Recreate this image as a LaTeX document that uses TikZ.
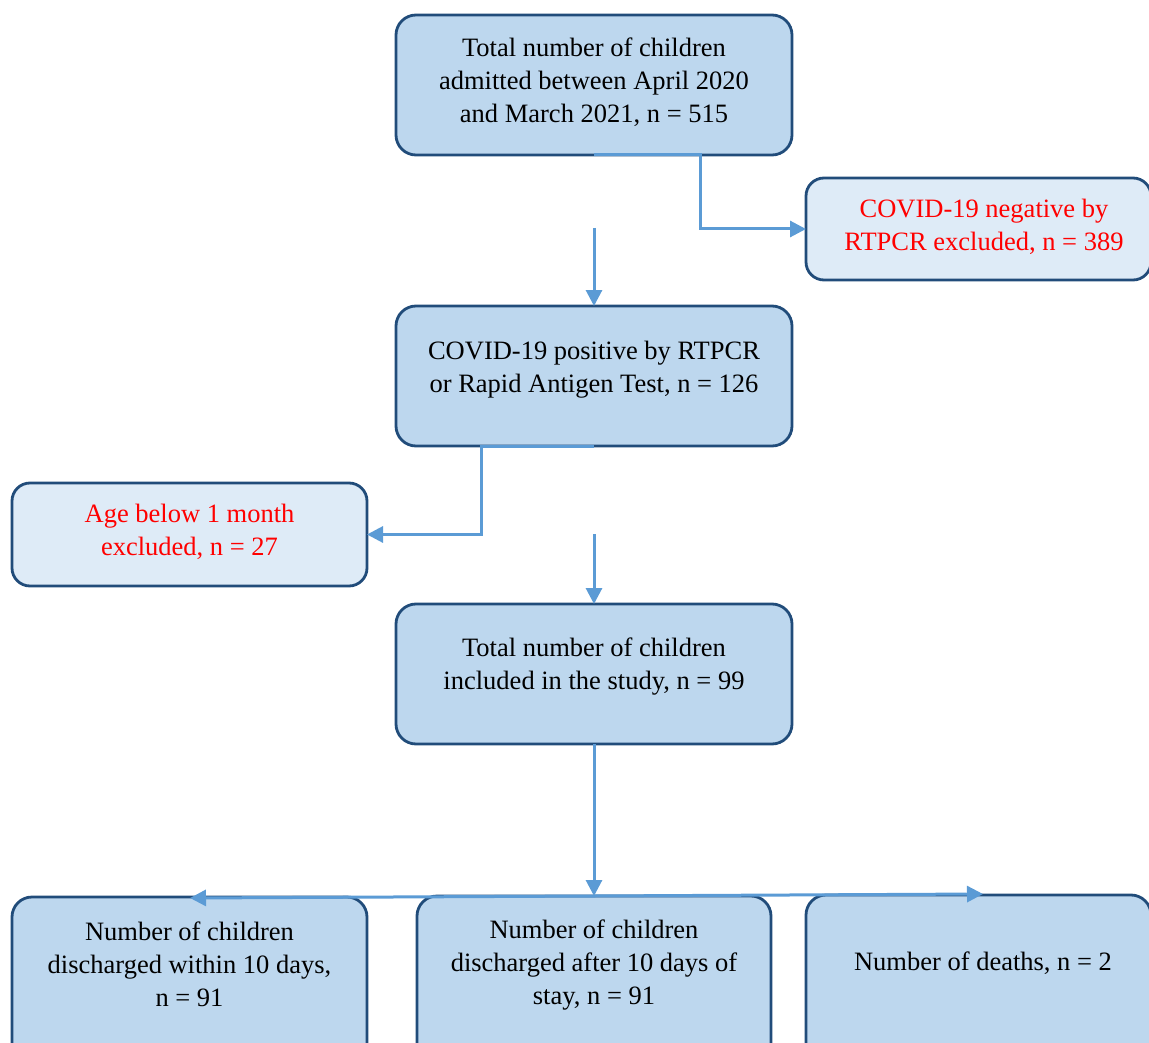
\documentclass[tikz,border=0pt]{standalone}
\usepackage{fontspec}
\setmainfont{Liberation Serif}
\usetikzlibrary{arrows.meta}
\definecolor{mainfill}{RGB}{189,215,238}
\definecolor{lightfill}{RGB}{222,235,247}
\definecolor{edgecol}{RGB}{33,76,122}
\definecolor{conncol}{RGB}{91,155,213}
\definecolor{redtext}{RGB}{255,0,0}
\begin{document}
\begin{tikzpicture}[x=1pt,y=-1pt,
  box/.style={draw=edgecol, line width=2.8pt, fill=mainfill, rounded corners=20pt, inner sep=0pt, outer sep=0pt},
  lightbox/.style={box, fill=lightfill, rounded corners=18pt},
  txt/.style={anchor=north, inner sep=0pt, align=center, font=\fontsize{26.5}{33}\selectfont},
  redtxt/.style={txt, text=redtext},
  conn/.style={draw=conncol, line width=3pt},
  arrow/.style={conn, -{Triangle[length=16pt,width=16pt]}}]
\useasboundingbox (0,0) rectangle (1149,1043);
\clip (0,0) rectangle (1149,1043);

% boxes
\node[box, minimum width=396pt, minimum height=140pt] (top) at (594,85) {};
\node[lightbox, minimum width=345pt, minimum height=102pt] (neg) at (978.5,229) {};
\node[box, minimum width=396pt, minimum height=140pt] (pos) at (594,376) {};
\node[lightbox, minimum width=355pt, minimum height=103pt] (age) at (189.5,534.5) {};
\node[box, minimum width=396pt, minimum height=140pt] (incl) at (594,674) {};
\node[box, minimum width=355pt, minimum height=220pt, anchor=north] (dis1) at (189.5,897) {};
\node[box, minimum width=354pt, minimum height=220pt, anchor=north] (dis2) at (594,896) {};
\node[box, minimum width=345pt, minimum height=220pt, anchor=north] (dead) at (978.5,895) {};

% texts
\node[txt] (ttop) at (594,37.5) {Total number of children\\admitted between April 2020\\and March 2021, n = 515};
\node[redtxt] (tneg) at (984,199) {COVID-19 negative by\\RTPCR excluded, n = 389};
\node[txt] (tpos) at (594,340.5) {COVID-19 positive by RTPCR\\or Rapid Antigen Test, n = 126};
\node[redtxt] (tage) at (189.5,504) {Age below 1 month\\excluded, n = 27};
\node[txt] (tincl) at (594,638) {Total number of children\\included in the study, n = 99};
\node[txt] (tdis1) at (189.5,922) {Number of children\\discharged within 10 days,\\n = 91};
\node[txt] (tdis2) at (594,920) {Number of children\\discharged after 10 days of\\stay, n = 91};
\node[txt] (tdead) at (983,952) {Number of deaths, n = 2};

% connectors
\draw[arrow] (top.south) -- ++(106,0) |- (neg.west);
\coordinate (a1) at (594,228);
\draw[arrow] (a1) -- (pos.north);
\draw[arrow] (pos.south) -- ++(-113,0) |- (age.east);
\coordinate (a2) at (594,534);
\draw[arrow] (a2) -- (incl.north);
\coordinate (hub) at (594,896);
\draw[arrow] (incl.south) -- (hub);
\coordinate (lt) at (190,898);
\coordinate (rt) at (983,894);
\draw[arrow] (hub) -- (lt);
\draw[arrow] (hub) -- (rt);
\end{tikzpicture}
\end{document}
